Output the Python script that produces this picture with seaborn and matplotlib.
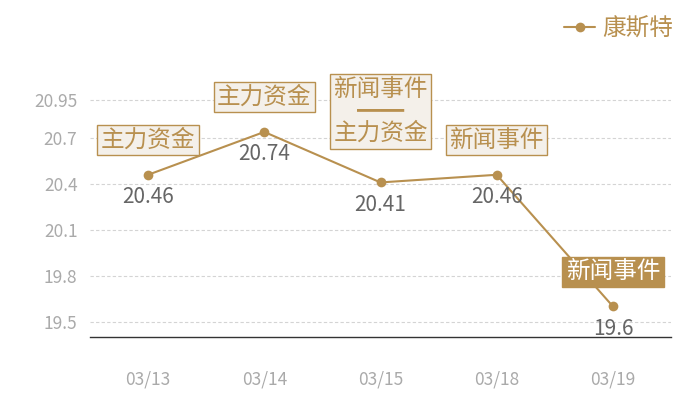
import pandas as pd
import matplotlib
matplotlib.use("Agg")
import matplotlib.pyplot as plt
import seaborn as sns

# chart data
dates = ["03/13", "03/14", "03/15", "03/18", "03/19"]
prices = [20.46, 20.74, 20.41, 20.46, 19.6]
events = ["主力资金", "主力资金", "新闻事件\n━━\n主力资金", "新闻事件", "新闻事件"]
y_ticks = [19.5, 19.8, 20.1, 20.4, 20.7, 20.95]
series_name = "康斯特"

gold = "#b8904f"
box_fill = "#f4f0ea"

sns.set_style("white")
plt.rcParams['font.family'] = ['Noto Sans CJK SC', 'DejaVu Sans']

df = pd.DataFrame({"date": dates, "price": prices})
df["x"] = range(len(df))

fig = plt.figure(figsize=(7, 4), dpi=100)
ax = fig.add_axes([90 / 700, 63 / 400, 581 / 700, 277 / 400])

sns.lineplot(data=df, x="x", y="price", ax=ax, color=gold, linewidth=1.5,
             marker="o", markersize=7, markeredgewidth=0, label=series_name)

ax.set_xlim(-0.5, len(dates) - 0.5)
ax.set_ylim(19.4, 21.21)
ax.set_xticks(df["x"])
ax.set_xticklabels(dates)
ax.set_yticks(y_ticks)
ax.set_yticklabels([str(t) for t in y_ticks])
ax.tick_params(axis="both", colors="#aaaaaa", labelsize=12.5, length=0)
ax.tick_params(axis="x", pad=24)
ax.tick_params(axis="y", pad=9)
ax.set_xlabel("")
ax.set_ylabel("")
ax.yaxis.grid(True, linestyle=(0, (3, 2)), color="#d4d4d4", linewidth=0.8)
for side in ["left", "right", "top"]:
    ax.spines[side].set_visible(False)
ax.spines["bottom"].set_color("#333333")
ax.spines["bottom"].set_linewidth(1)

# value labels under the points
for i, v in enumerate(prices):
    ax.annotate(f"{v:g}", (i, v), xytext=(0, -16), textcoords="offset points",
                ha="center", va="center", fontsize=15, color="#666666")

# event boxes above the points
for i, (v, ev) in enumerate(zip(prices, events)):
    last = i == len(prices) - 1
    dy = 51 if "\n" in ev else 25
    ax.annotate(ev, (i, v), xytext=(0, dy), textcoords="offset points",
                ha="center", va="center", fontsize=17, linespacing=0.95,
                color="white" if last else gold, zorder=5,
                bbox=dict(boxstyle="square,pad=0.15",
                          fc=gold if last else box_fill,
                          ec=gold, lw=1))

leg = ax.legend(loc="upper right", bbox_to_anchor=(1.04, 1.23), frameon=False,
                fontsize=17, labelcolor=gold, handlelength=1.3,
                handletextpad=0.3)

fig.savefig("out.png", dpi=100)
